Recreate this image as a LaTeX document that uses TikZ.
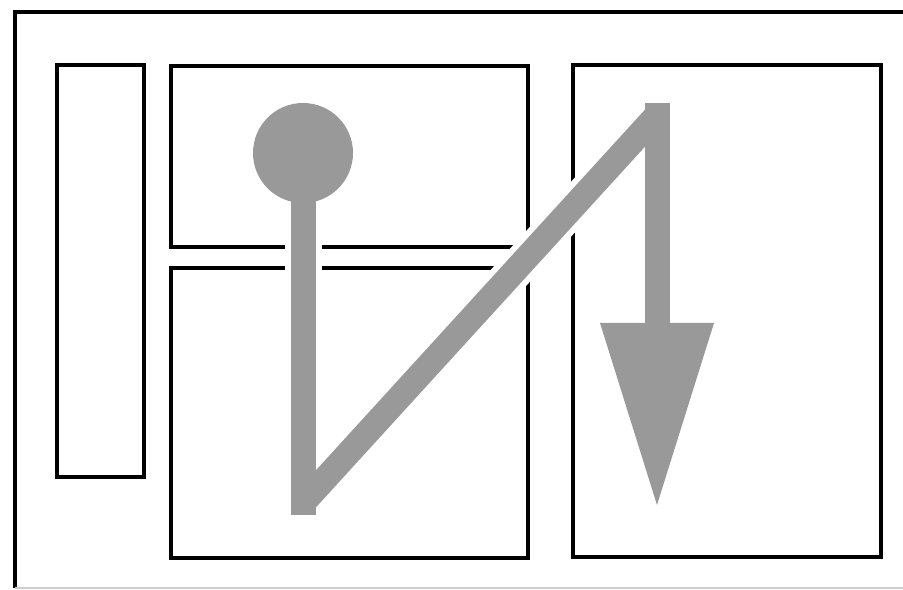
\documentclass[tikz,border=0pt]{standalone}
\usetikzlibrary{positioning}
\definecolor{bargray}{RGB}{153,153,153}
\begin{document}
\begin{tikzpicture}[
  x=0.02cm, y=-0.02cm,
  box/.style={draw=black, line width=2.2pt},
  bar/.style={draw=bargray, line width=25*0.02cm, line cap=butt},
  halo/.style={draw=white, line width=37*0.02cm, line cap=butt}
]
  \useasboundingbox (0,0) rectangle (903,590);
  \clip (0,0) rectangle (903,590);

  % Rahmen und Felder
  \draw[box] (930,588) -- (930,12) -- (15,12) -- (15,588);
  \draw[draw=black!20, line width=0.8pt] (15,588) -- (930,588);
  \draw[box] (57,65) rectangle (144,477);
  \draw[box] (171,66) rectangle (528,247);
  \draw[box] (171,268) rectangle (528,558);
  \draw[box] (573,65) rectangle (881,557);

  % Punkte des Weges
  \coordinate (start) at (303,153);
  \coordinate (unten) at (303,515);
  \coordinate (knick) at (303,503);
  \coordinate (oben) at (657,115);
  \coordinate (kopf) at (657,103);
  \coordinate (spitze) at (657,505);

  % weisse Aussparung um den Weg
  \draw[halo] (start) -- (unten);
  \draw[halo] (knick) -- (oben);
  \draw[halo] (kopf) -- (657,323);

  % grauer Weg mit Pfeil
  \fill[bargray] (start) circle (50);
  \draw[bar] (start) -- (unten);
  \draw[bar] (knick) -- (oben);
  \draw[bar] (kopf) -- (657,324);
  \fill[bargray] (600,323) -- (714,323) -- (spitze) -- cycle;
\end{tikzpicture}
\end{document}
